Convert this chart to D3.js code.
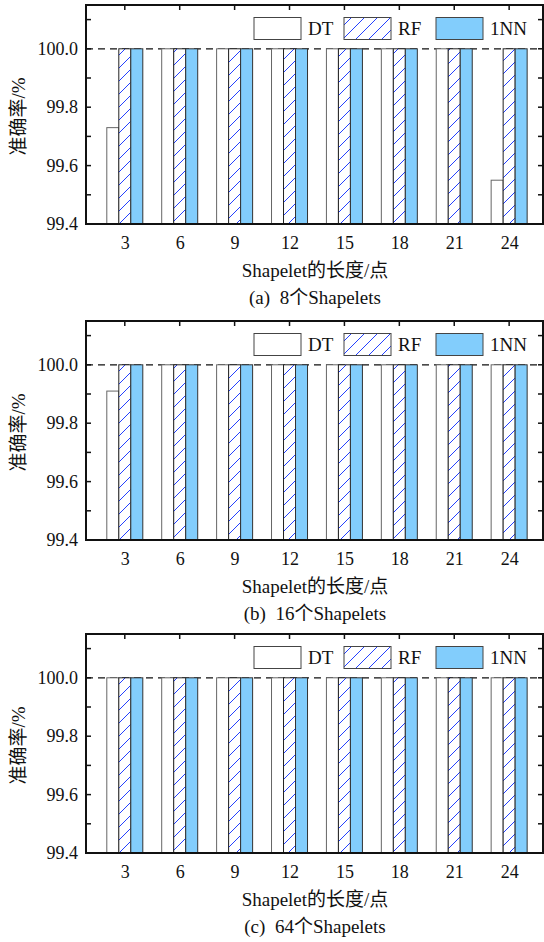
<!DOCTYPE html>
<html>
<head>
<meta charset="utf-8">
<script src="https://cdn.jsdelivr.net/npm/d3@7"></script>
<style>
  body { margin: 0; background: #fff; }
  svg text { font-family: "Times New Roman", "Liberation Serif", "DejaVu Serif", "Noto Sans CJK SC", serif; fill: #111; }
</style>
</head>
<body>
<div id="chart"></div>
<script>
// shapelet lengths (x categories)
var lengths = [3, 6, 9, 12, 15, 18, 21, 24];
var yTicks = [99.4, 99.6, 99.8, 100.0];
var seriesNames = ["DT", "RF", "1NN"];
var captions = ["(a)\u00a0\u00a08个Shapelets", "(b)\u00a0\u00a016个Shapelets", "(c)\u00a0\u00a064个Shapelets"];

// accuracy values per panel
var dtA = [99.73, 100, 100, 100, 100, 100, 100, 99.55];
var rfA = [100, 100, 100, 100, 100, 100, 100, 100];
var nnA = [100, 100, 100, 100, 100, 100, 100, 100];
var dtB = [99.91, 100, 100, 100, 100, 100, 100, 100];
var rfB = [100, 100, 100, 100, 100, 100, 100, 100];
var nnB = [100, 100, 100, 100, 100, 100, 100, 100];
var dtC = [100, 100, 100, 100, 100, 100, 100, 100];
var rfC = [100, 100, 100, 100, 100, 100, 100, 100];
var nnC = [100, 100, 100, 100, 100, 100, 100, 100];

var panels = [[dtA, rfA, nnA], [dtB, rfB, nnB], [dtC, rfC, nnC]];

var W = 544, H = 942;
var left = 86, right = 543;
var tops = [5, 321, 634];
var ph = 219;
var barW = 12;

var svg = d3.select("#chart").append("svg")
  .attr("width", W)
  .attr("height", H);

// hatch pattern for RF
var defs = svg.append("defs");
var pat = defs.append("pattern")
  .attr("id", "hatch")
  .attr("patternUnits", "userSpaceOnUse")
  .attr("width", 13)
  .attr("height", 13);
pat.append("rect").attr("width", 13).attr("height", 13).attr("fill", "white");
pat.append("path")
  .attr("d", "M0,13 L13,0 M-2,2 L2,-2 M11,15 L15,11")
  .attr("stroke", "#2340ff")
  .attr("stroke-width", 1);

var fills = ["white", "url(#hatch)", "#82cdfc"];
var strokes = ["#666", "#222", "#333"];
var offsets = [-1.5, -0.5, 0.5]; // in bar widths relative to center

var x = d3.scaleLinear().domain([0.88, 25.85]).range([left, right]);
var y = d3.scaleLinear().domain([99.4, 100.15]).range([ph, 0]);

panels.forEach(function(series, p) {
  var g = svg.append("g").attr("transform", "translate(0," + tops[p] + ")");

  // dashed reference line at 100
  g.append("line")
    .attr("x1", left).attr("x2", right)
    .attr("y1", y(100)).attr("y2", y(100))
    .attr("stroke", "#111")
    .attr("stroke-width", 1.2)
    .attr("stroke-dasharray", "7,5");

  // bars
  series.forEach(function(vals, s) {
    g.selectAll(".bar" + s)
      .data(vals)
      .enter()
      .append("rect")
      .attr("class", "bar" + s)
      .attr("x", (d, i) => x(lengths[i]) + offsets[s] * barW)
      .attr("y", (d) => y(d))
      .attr("width", barW)
      .attr("height", (d) => y(99.4) - y(d))
      .attr("fill", fills[s])
      .attr("stroke", strokes[s])
      .attr("stroke-width", 1);
  });

  // axes (ticks inside)
  var minor = d3.range(99.5, 100.15, 0.2);
  var yLeft = d3.axisLeft(y).tickValues(yTicks).tickFormat(d3.format(".1f")).tickSize(0).tickPadding(8);
  var ya = g.append("g").attr("transform", "translate(" + left + ",0)").call(yLeft);
  ya.select(".domain").remove();
  ya.attr("font-family", null);
  ya.selectAll("text").attr("font-size", "18px");

  var allY = yTicks.concat(minor);
  g.selectAll(".ytl").data(allY).enter().append("line")
    .attr("x1", left).attr("x2", left + 5)
    .attr("y1", (d) => y(d)).attr("y2", (d) => y(d))
    .attr("stroke", "#111").attr("stroke-width", 1.5);
  g.selectAll(".ytr").data(allY).enter().append("line")
    .attr("x1", right).attr("x2", right - 5)
    .attr("y1", (d) => y(d)).attr("y2", (d) => y(d))
    .attr("stroke", "#111").attr("stroke-width", 1.5);

  var xBottom = d3.axisBottom(x).tickValues(lengths).tickSize(0).tickPadding(12);
  var xa = g.append("g").attr("transform", "translate(0," + ph + ")").call(xBottom);
  xa.select(".domain").remove();
  xa.attr("font-family", null);
  xa.selectAll("text").attr("font-size", "18px");

  g.selectAll(".xtt").data(lengths).enter().append("line")
    .attr("x1", (d) => x(d)).attr("x2", (d) => x(d))
    .attr("y1", 0).attr("y2", 5)
    .attr("stroke", "#111").attr("stroke-width", 1.5);

  // frame
  g.append("rect")
    .attr("x", left).attr("y", 0)
    .attr("width", right - left).attr("height", ph)
    .attr("fill", "none")
    .attr("stroke", "#111")
    .attr("stroke-width", 2);

  // legend
  var legX = [254, 344, 436];
  seriesNames.forEach(function(name, s) {
    g.append("rect")
      .attr("x", legX[s]).attr("y", 12.5)
      .attr("width", 47).attr("height", 22)
      .attr("fill", fills[s])
      .attr("stroke", "#444")
      .attr("stroke-width", 1);
    g.append("text")
      .attr("x", legX[s] + 54).attr("y", 30)
      .attr("font-size", "19px")
      .text(name);
  });

  // axis titles
  g.append("text")
    .attr("transform", "translate(25," + (ph / 2 + 2) + ") rotate(-90)")
    .attr("text-anchor", "middle")
    .attr("font-size", "19px")
    .text("准确率/%");

  g.append("text")
    .attr("x", 315).attr("y", ph + 53)
    .attr("text-anchor", "middle")
    .attr("font-size", "19px")
    .text("Shapelet的长度/点");

  g.append("text")
    .attr("x", 315).attr("y", ph + 80)
    .attr("text-anchor", "middle")
    .attr("font-size", "19px")
    .text(captions[p]);
});
</script>
</body>
</html>
